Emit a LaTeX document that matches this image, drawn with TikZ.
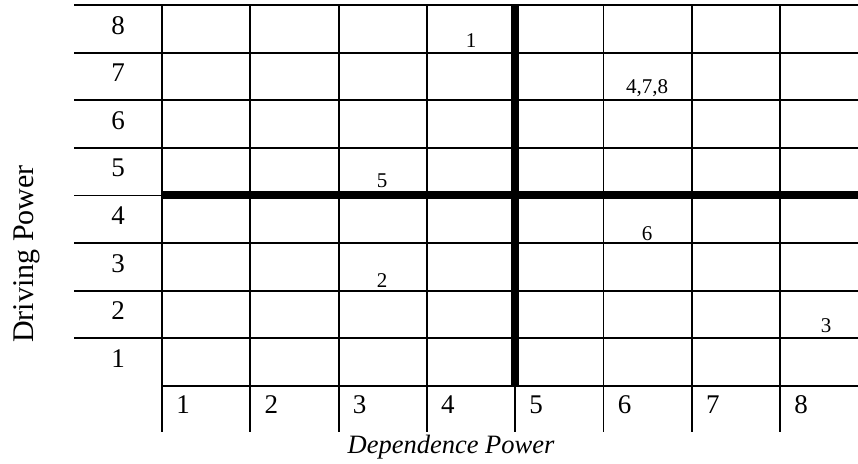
\documentclass[tikz,border=0pt]{standalone}
\usepackage{fontspec}
\setmainfont{Liberation Serif}
\usetikzlibrary{positioning, calc}

\tikzset{
    thin grid/.style={line width=1.8pt},
    quad line/.style={line width=8pt},
    axis num/.style={font=\fontsize{27}{30}\selectfont, anchor=base},
    cell num/.style={font=\fontsize{21}{24}\selectfont, anchor=base},
}

\begin{document}
\begin{tikzpicture}[x=1pt, y=-1pt]
    \useasboundingbox (0,0) rectangle (858,463);

    % rows and columns of the matrix
    \foreach \r in {0,...,7}
        \draw[thin grid] (74,{5+47.6*\r}) -- (858,{5+47.6*\r});
    \draw[thin grid] (162,385.8) -- (858,385.8);
    \foreach \c in {0,...,7}
        \draw[thin grid] ({162+88.3*\c},4) -- ({162+88.3*\c},432);

    % quadrant dividers
    \draw[quad line] (162,195.4) -- (858,195.4);
    \draw[quad line] (515.2,4) -- (515.2,385.8);

    % driving power scale
    \foreach \r in {1,...,8}
        \node[axis num] (drv\r) at (118,{5+47.6*(8-\r)+29}) {\r};
    % dependence power scale
    \foreach \c in {1,...,8}
        \node[axis num] (dep\c) at ({162+88.3*(\c-1)+21},413) {\c};

    % variables
    \node[cell num] (v1) at (471,47) {1};
    \node[cell num] (v478) at (647,93) {4,7,8};
    \node[cell num] (v5) at (382,187) {5};
    \node[cell num] (v6) at (647,240) {6};
    \node[cell num] (v2) at (382,287) {2};
    \node[cell num] (v3) at (826,332) {3};

    % axis titles
    \node[font=\fontsize{26.5}{30}\selectfont\itshape, anchor=base] (xlab) at (451,453) {Dependence Power};
    \node[font=\fontsize{30}{33}\selectfont, anchor=base, rotate=90] (ylab) at (33,254) {Driving Power};
\end{tikzpicture}
\end{document}
